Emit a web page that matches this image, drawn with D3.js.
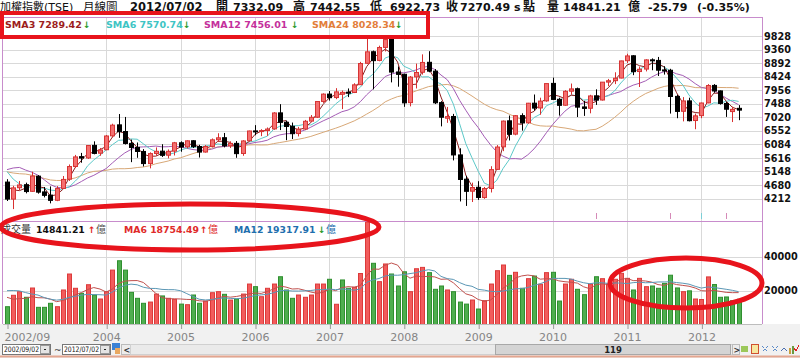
<!DOCTYPE html>
<html><head><meta charset="utf-8">
<script src="https://cdn.jsdelivr.net/npm/d3@7/dist/d3.min.js"></script>
<style>
html,body{margin:0;padding:0;background:#fff;overflow:hidden}
svg{display:block}
text{font-family:"DejaVu Sans","Noto Sans CJK TC",sans-serif}
</style></head><body>
<svg id="chart" width="800" height="358"></svg>
<script>
// ---------- DATA ----------
const months = [
 "2002/09","2002/10","2002/11","2002/12",
 "2003/01","2003/02","2003/03","2003/04","2003/05","2003/06","2003/07","2003/08","2003/09","2003/10","2003/11","2003/12",
 "2004/01","2004/02","2004/03","2004/04","2004/05","2004/06","2004/07","2004/08","2004/09","2004/10","2004/11","2004/12",
 "2005/01","2005/02","2005/03","2005/04","2005/05","2005/06","2005/07","2005/08","2005/09","2005/10","2005/11","2005/12",
 "2006/01","2006/02","2006/03","2006/04","2006/05","2006/06","2006/07","2006/08","2006/09","2006/10","2006/11","2006/12",
 "2007/01","2007/02","2007/03","2007/04","2007/05","2007/06","2007/07","2007/08","2007/09","2007/10","2007/11","2007/12",
 "2008/01","2008/02","2008/03","2008/04","2008/05","2008/06","2008/07","2008/08","2008/09","2008/10","2008/11","2008/12",
 "2009/01","2009/02","2009/03","2009/04","2009/05","2009/06","2009/07","2009/08","2009/09","2009/10","2009/11","2009/12",
 "2010/01","2010/02","2010/03","2010/04","2010/05","2010/06","2010/07","2010/08","2010/09","2010/10","2010/11","2010/12",
 "2011/01","2011/02","2011/03","2011/04","2011/05","2011/06","2011/07","2011/08","2011/09","2011/10","2011/11","2011/12",
 "2012/01","2012/02","2012/03","2012/04","2012/05","2012/06","2012/07"
];
const open = [
 4780,4190,4585,4690,
 4460,4985,4440,4330,4150,4560,4880,5320,5660,5615,6050,5780,
 5900,6380,6760,6530,6120,5980,5840,5420,5770,5850,5710,5850,
 6140,6000,6210,6010,5820,6015,6245,6315,6035,6120,5770,6210,
 6550,6535,6565,6620,7175,6850,6710,6460,6615,6890,7025,7570,
 7825,7705,7820,7890,7880,8150,8890,9290,8990,9440,9780,8590,
 8510,7530,8420,8580,8925,8620,7530,6990,7050,5720,4880,4465,
 4600,4245,4560,5220,6000,6900,6440,7080,6830,7510,7345,7590,
 8195,7645,7440,7925,8010,7380,7335,7765,7620,8240,8290,8380,
 8980,9150,8605,8690,9010,8990,8660,8650,7745,7230,7590,6910,
 7080,7520,8125,7935,7500,7220,7332.09
];
const high = [
 4880,4650,4820,4760,
 5141,5020,4610,4630,4640,4990,5390,5720,5790,6060,6190,5960,
 6410,6800,7135,7034,6250,6150,5920,5810,5980,6090,5910,6170,
 6190,6225,6230,6070,6060,6290,6470,6480,6190,6200,6230,6560,
 6750,6610,6670,7200,7476,6910,6840,6690,6930,7100,7580,7850,
 7930,8030,7950,8020,8200,8940,9807,9330,9500,9860,9800,8780,
 8530,8450,8880,9200,9309,8690,7580,7380,7140,5950,5000,4760,
 4810,4610,5330,6060,6910,7084,7100,7160,7520,7811,7700,8190,
 8395,7700,7960,8190,8050,7590,7800,7990,8240,8350,8580,8980,
 9220,9170,8780,9030,9060,9110,8790,8700,7800,7720,7700,7150,
 7530,8170,8170,7950,7550,7390,7442.55
];
const low = [
 4125,3845,4500,4390,
 4440,4380,4250,4044,4120,4540,4820,5270,5450,5580,5740,5690,
 5880,6330,6310,6080,5470,5620,5320,5255,5690,5650,5600,5700,
 5830,5950,5960,5630,5800,5980,6180,5980,5960,5620,5690,6180,
 6400,6370,6380,6590,6580,6230,6270,6360,6580,6850,7000,7520,
 7600,7650,7306,7720,7860,8140,8870,7987,8960,9300,8230,8080,
 7384,7400,8020,8500,8580,7480,6708,6830,5530,4110,3955,4090,
 4164,4200,4420,5200,5850,6220,6400,6560,6800,7250,7110,7560,
 7630,7080,7420,7800,7030,7070,7160,7450,7600,8100,8170,8370,
 8900,8480,8070,8610,8650,8450,8500,7150,6990,6880,6880,6609,
 6990,7510,7870,7460,7035,6857,6922.73
];
const close = [
 4191.81,4579.58,4680.00,4452.45,
 4990.00,4432.00,4321.21,4148.07,4555.90,4872.15,5318.34,5650.82,5611.41,6045.12,5771.89,5890.69,
 6375.38,6750.54,6522.19,6117.00,5977.84,5839.44,5420.57,5765.54,5845.69,5705.93,5844.76,6139.69,
 5994.23,6207.83,6005.88,5818.07,6011.62,6241.94,6311.98,6033.50,6118.51,5764.30,6203.47,6548.34,
 6532.98,6561.51,6613.97,7171.77,6846.75,6704.36,6454.58,6611.69,6883.93,7021.30,7567.55,7823.72,
 7699.64,7901.60,7884.41,7875.42,8144.93,8883.21,9287.25,8982.16,9437.23,9711.37,8586.39,8506.28,
 7521.13,8412.76,8572.59,8919.92,8619.08,7523.54,7024.06,7046.09,5719.28,4870.66,4460.49,4591.22,
 4247.97,4557.15,5210.84,5992.57,6890.44,6432.16,7077.71,6825.95,7509.17,7340.08,7582.21,8188.11,
 7640.25,7436.10,7920.06,8004.33,7373.62,7329.37,7760.63,7616.01,8237.78,8287.09,8372.48,8972.50,
 9145.35,8600.19,8683.30,9007.87,8988.58,8652.59,8644.14,7741.36,7225.38,7587.97,6904.12,7072.08,
 7517.08,8121.45,7933.00,7501.72,7301.50,7296.28,7270.49
];
// monthly turnover (億)
const volume = [
 10470,17180,19300,16000,
 21470,10100,10100,12470,10470,20300,29700,21300,18350,23400,17350,15000,
 19300,32000,37500,32000,18900,15400,12470,13200,17900,16800,15400,14800,
 12000,11650,17350,12470,13800,18700,19300,17750,14400,15000,17900,23800,
 22250,16350,21300,23800,28100,20300,15400,17350,16000,17350,23800,23800,
 26600,11900,26200,21300,21900,30000,60500,36000,25200,35600,29700,22650,
 31000,19300,32800,33600,30500,20700,22650,20300,19300,13200,12000,14400,
 9100,14000,23800,31650,35000,28900,30700,21300,26950,28500,23650,30500,
 30700,13800,23800,26600,20700,17550,23800,28100,26950,23800,26600,30100,
 27150,20300,27150,22250,22650,21300,24200,29000,21500,19300,19800,15000,
 14700,28000,23500,16000,16200,13980,14841.21
];
// history before the first month shown (needed for the moving averages)
const priorClose = [5544,5256,4739,5936,5674,5797,5381,4990,4883,4370,4475,3636,3903,4441,5551,5872,5726,6167,6153,5675,5153,4940,4764];
const priorVolume = [16000,22000,28000,32000,17000,27830,24000,17000,15000,16000,13500];

const priceTicks = [4212,4680,5148,5616,6084,6552,7020,7488,7956,8424,8892,9360,9828];
const volumeTicks = [20000,40000];
const yearTickMonths = ["2002/09","2004/01","2005/01","2006/01","2007/01","2008/01","2009/01","2010/01","2011/01","2012/01"];
const yearTickLabels = ["2002/09","2004","2005","2006","2007","2008","2009","2010","2011","2012"];
const smaPeriods = [3,6,12,24];
const smaLegendValues = ["7289.42","7570.74","7456.01","8028.34"];
const volMaPeriods = [6,12];
const volLegend = {vol:"14841.21", ma6:"18754.49", ma12:"19317.91"};
const eventMonths = ["2010/08","2011/08","2012/01","2012/05"];

// ---------- LAYOUT ----------
const svg = d3.select('#chart');
const L = 3, R = 762, T = 17, MID = 221, B = 324;
const N = months.length;
const x = d3.scalePoint().domain(months).range([7, 738.6]);
const y = d3.scaleLinear().domain([4212, 9828]).range([198.5, 36.2]);
const yv = d3.scaleLinear().domain([0, 40000]).range([324.5, 256.5]);
const idx = d3.range(N);
const px = i => Math.round(x(months[i]));

svg.append('rect').attr('width',800).attr('height',358).attr('fill','#fff');
svg.append('rect').attr('x',0).attr('y',B).attr('width',800).attr('height',358-B).attr('fill','#f1f1f1');

// grid
const grid = svg.append('g').attr('stroke','#d9d9d9').attr('stroke-width',1).attr('shape-rendering','crispEdges');
grid.selectAll('.hp').data(priceTicks).join('line')
  .attr('x1',L).attr('x2',R).attr('y1',d=>Math.round(y(d))+0.5).attr('y2',d=>Math.round(y(d))+0.5);
grid.selectAll('.hv').data(volumeTicks).join('line')
  .attr('x1',L).attr('x2',R).attr('y1',d=>Math.round(yv(d))+0.5).attr('y2',d=>Math.round(yv(d))+0.5);
grid.selectAll('.vy').data(yearTickMonths.slice(1)).join('line')
  .attr('x1',d=>Math.round(x(d))+0.5).attr('x2',d=>Math.round(x(d))+0.5).attr('y1',T).attr('y2',B);

// moving averages
const allClose = priorClose.concat(close);
const allVol = priorVolume.concat(volume);
function ma(arr, offset, n){ return idx.map(i=>{ const k=i+offset; return d3.mean(arr.slice(k-n+1,k+1)); }); }
const smaColors = ['#8e1f1f','#5cc9c9','#a45cb5','#d8a877'];
const lineGen = d3.line().x((d,i)=>x(months[i])).y(d=>y(d));
const maG = svg.append('g').attr('fill','none').attr('stroke-width',1);
smaPeriods.slice().reverse().forEach((n,j)=>{
  const k = smaPeriods.length-1-j;
  maG.append('path').datum(ma(allClose, priorClose.length, n)).attr('d',lineGen).attr('stroke',smaColors[k]);
});

// candles
const up = i => close[i] >= open[i];
const cg = svg.append('g');
cg.selectAll('line').data(idx).join('line')
  .attr('x1',i=>px(i)+0.5).attr('x2',i=>px(i)+0.5)
  .attr('y1',i=>y(high[i])).attr('y2',i=>y(low[i]))
  .attr('stroke',i=>up(i)?'#d83030':'#000').attr('stroke-width',1);
cg.selectAll('rect').data(idx).join('rect')
  .attr('x',i=>px(i)-2+0.5).attr('width',4)
  .attr('y',i=>y(Math.max(open[i],close[i])))
  .attr('height',i=>Math.max(1,Math.abs(y(open[i])-y(close[i]))))
  .attr('fill',i=>up(i)?'#f47070':'#000')
  .attr('stroke',i=>up(i)?'#d63434':'#000').attr('stroke-width',1);

// event markers
svg.append('g').selectAll('line').data(eventMonths).join('line')
  .attr('x1',d=>Math.round(x(d))+0.5).attr('x2',d=>Math.round(x(d))+0.5)
  .attr('y1',213).attr('y2',219).attr('stroke',(d,i)=>i===2?'#7ccfd6':'#d58ab8').attr('stroke-width',1);

// volume bars
const volUp = i => close[i] >= (i===0 ? priorClose[priorClose.length-1] : close[i-1]);
const clipTop = MID+1;
svg.append('g').selectAll('rect').data(idx).join('rect')
  .attr('x',i=>px(i)-2+0.5).attr('width',4)
  .attr('y',i=>Math.max(clipTop,yv(volume[i])))
  .attr('height',i=>yv(0)-Math.max(clipTop,yv(volume[i])))
  .attr('fill',i=>volUp(i)?'#f25c5c':'#4fae4f')
  .attr('stroke',i=>volUp(i)?'#dc3a3a':'#2f8f2f').attr('stroke-width',1);

const vLine = d3.line().x((d,i)=>x(months[i])).y(d=>yv(d));
const vmaColors = ['#c0504d','#5b97b5'];
volMaPeriods.forEach((n,k)=>{
  svg.append('path').datum(ma(allVol, priorVolume.length, n)).attr('d',vLine)
    .attr('fill','none').attr('stroke',vmaColors[k]).attr('stroke-width',1);
});

// frame
const fr = svg.append('g').attr('stroke','#c88ccc').attr('stroke-width',1).attr('shape-rendering','crispEdges').attr('fill','none');
fr.append('line').attr('x1',L).attr('x2',R).attr('y1',T+0.5).attr('y2',T+0.5);
fr.append('line').attr('x1',L).attr('x2',R).attr('y1',MID+0.5).attr('y2',MID+0.5);
fr.append('line').attr('x1',R+0.5).attr('x2',R+0.5).attr('y1',T).attr('y2',B);
fr.append('line').attr('x1',L-0.5).attr('x2',L-0.5).attr('y1',T).attr('y2',B);
svg.append('line').attr('x1',L).attr('x2',R).attr('y1',B+0.5).attr('y2',B+0.5).attr('stroke','#bdbdbd').attr('shape-rendering','crispEdges');

// right axes
const ax = svg.append('g').attr('transform',`translate(${R},0)`)
  .call(d3.axisRight(y).tickValues(priceTicks).tickSize(0).tickPadding(2).tickFormat(d3.format('d')));
const axv = svg.append('g').attr('transform',`translate(${R},0)`)
  .call(d3.axisRight(yv).tickValues(volumeTicks).tickSize(0).tickPadding(2).tickFormat(d3.format('d')));
[ax,axv].forEach(a=>{ a.select('.domain').remove();
  a.selectAll('text').attr('font-family','DejaVu Sans').attr('font-weight','bold').attr('font-size','9.7px').attr('fill','#111'); });

// bottom axis
const xa = svg.append('g').attr('transform',`translate(0,${B})`)
  .call(d3.axisBottom(x).tickValues(yearTickMonths).tickSize(5).tickPadding(4).tickFormat((d,i)=>yearTickLabels[i]));
xa.select('.domain').remove();
xa.selectAll('line').attr('stroke','#9a9a9a').attr('transform','translate(0.5,0)');
xa.selectAll('text').attr('font-family','"Liberation Sans",Arial,sans-serif').attr('font-size','11px').attr('fill','#858585');
xa.selectAll('.tick').filter((d,i)=>i===0).select('text').attr('text-anchor','start').attr('x',-3);

// ---------- TEXT ----------
const title = svg.append('text').attr('y',10.5).attr('font-size','11px').attr('fill','#111');
const tt = [
 ["加權指數(TSE)",0,"normal",11],["月線圖",83,"normal",11.5],["2012/07/02",130,"bold",11.5],
 ["開",216,"bold",12],["7332.09",233,"bold",11],["高",293,"bold",12],["7442.55",310,"bold",11],
 ["低",370,"bold",12],["6922.73",390,"bold",11],["收",446,"bold",12],["7270.49",460,"bold",11],
 ["s",514,"bold",11],["點",523,"bold",12],["量",547,"bold",12],["14841.21",563,"bold",11],
 ["億",628,"bold",12],["-25.79",648,"bold",11],["(-0.35%)",697,"bold",11]
];
tt.forEach(t=>title.append('tspan').attr('x',t[1]).attr('font-weight',t[2]).attr('font-size',t[3]+'px').text(t[0]));

// SMA legend
const legColors = ['#9c1c1c','#3ec4c4','#c4309c','#e27d3a'];
const legX = [5,106,204,312];
const arrowX = [83,183,291,395];
smaPeriods.forEach((n,k)=>{
  svg.append('text').attr('x',legX[k]).attr('y',28).attr('font-size','9.5px').attr('font-weight','bold')
    .attr('fill',legColors[k]).text(`SMA${n} ${smaLegendValues[k]}`);
  svg.append('text').attr('x',arrowX[k]).attr('y',28).attr('font-size','9px').attr('font-weight','bold')
    .attr('fill','#2a9a2a').text('↓');
});

// volume legend
const vl = [
 ["成交量",1,"#333","normal",10],[volLegend.vol,36,"#111","bold",9.3],["↑",88,"#e02020","bold",9],["億",96,"#555","normal",10],
 ["MA6 "+volLegend.ma6,124,"#e02a2a","bold",9.3],["↑",200,"#e02020","bold",9],["億",208,"#e02a2a","normal",10],
 ["MA12 "+volLegend.ma12,234,"#1f6fae","bold",9.3],["↓",318,"#2a9a2a","bold",9],["億",326,"#1f6fae","normal",10]
];
vl.forEach(t=>svg.append('text').attr('x',t[1]).attr('y',233).attr('fill',t[2]).attr('font-weight',t[3]).attr('font-size',t[4]+'px').text(t[0]));

// ---------- TOOLBAR ----------
const tb = svg.append('g').attr('shape-rendering','crispEdges');
function dateBox(x0,label){
  tb.append('rect').attr('x',x0+0.5).attr('y',344.5).attr('width',48).attr('height',10).attr('fill','#fff').attr('stroke','#777');
  tb.append('text').attr('x',x0+2).attr('y',352.3).attr('font-size','7.5px').attr('textLength',35).attr('lengthAdjust','spacingAndGlyphs')
    .attr('font-family','"Liberation Sans",Arial').attr('fill','#111').text(label);
  tb.append('rect').attr('x',x0+38.5).attr('y',345.5).attr('width',9).attr('height',8).attr('fill','#e4e4e4').attr('stroke','#999');
  tb.append('path').attr('d',`M${x0+41},${348.5}h4l-2,2.5z`).attr('fill','#222');
}
dateBox(2,"2002/09/02");
tb.append('text').attr('x',54).attr('y',353).attr('font-size','9px').attr('fill','#333').text('~');
dateBox(62,"2012/07/02");
tb.append('rect').attr('x',112).attr('y',343).attr('width',8).attr('height',7).attr('fill','#3b82d6');
tb.append('rect').attr('x',115).attr('y',348).attr('width',5).attr('height',6).attr('fill','#e9a860');
tb.append('rect').attr('x',121.5).attr('y',344.5).attr('width',9).attr('height',10).attr('fill','#ececec').attr('stroke','#bbb');
tb.append('text').attr('x',123.5).attr('y',352.5).attr('font-size','8px').attr('font-weight','bold').attr('fill','#333').text('<');
tb.append('rect').attr('x',130.5).attr('y',344.5).attr('width',602).attr('height',10).attr('fill','#eaeaea').attr('stroke','#d0d0d0');
tb.append('rect').attr('x',495.5).attr('y',344.5).attr('width',235).attr('height',10).attr('fill','#d4d4d4').attr('stroke','#a8a8a8');
tb.append('text').attr('x',613).attr('y',352.8).attr('text-anchor','middle').attr('font-size','8.5px').attr('font-weight','bold').attr('fill','#222').text(String(N));
tb.append('rect').attr('x',732.5).attr('y',344.5).attr('width',7).attr('height',10).attr('fill','#ececec').attr('stroke','#bbb');
tb.append('text').attr('x',733.5).attr('y',352.5).attr('font-size','8px').attr('font-weight','bold').attr('fill','#333').text('>');
tb.append('rect').attr('x',741).attr('y',346).attr('width',7).attr('height',6).attr('fill','#9cc85a');
tb.append('rect').attr('x',751.5).attr('y',344.5).attr('width',7).attr('height',9).attr('fill','#f7e7a0').attr('stroke','#d05030');
tb.append('path').attr('d','M762,346l6,6M768,346l-6,6M772,346l6,6M778,346l-6,6').attr('stroke','#5a8ac8').attr('stroke-dasharray','1,1');
tb.append('path').attr('d','M781,351q3,-5 6,0').attr('stroke','#4a6fb0').attr('fill','none');
tb.append('rect').attr('x',789).attr('y',348).attr('width',2).attr('height',6).attr('fill','#c8a040');
tb.append('rect').attr('x',792).attr('y',346).attr('width',2).attr('height',8).attr('fill','#6a9a40');
tb.append('path').attr('d','M794,348l2,3l3,-6').attr('stroke','#e02020').attr('fill','none');
svg.append('line').attr('x1',0).attr('x2',800).attr('y1',356.5).attr('y2',356.5).attr('stroke','#e3a58f').attr('stroke-width',2);

// ---------- ANNOTATIONS ----------
const an = svg.append('g').attr('fill','none').attr('stroke','#e8141c');
an.append('rect').attr('x',2).attr('y',13).attr('width',426).attr('height',24).attr('stroke-width',4);
an.append('ellipse').attr('cx',190).attr('cy',227).attr('rx',189).attr('ry',23).attr('stroke-width',5);
an.append('ellipse').attr('cx',686).attr('cy',283).attr('rx',76).attr('ry',25).attr('stroke-width',5);
</script>
</body></html>
